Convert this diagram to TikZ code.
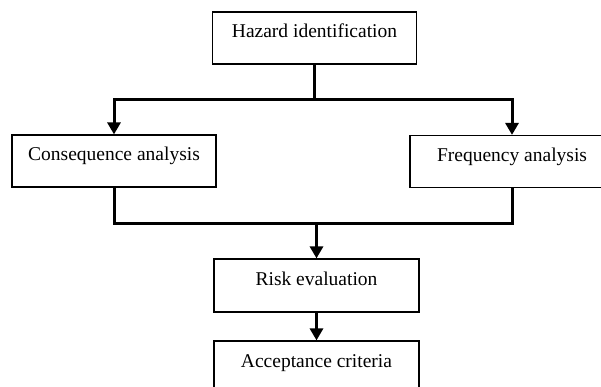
\documentclass[tikz,border=0pt]{standalone}
\usepackage{fontspec}
\setmainfont{Liberation Serif}
\usetikzlibrary{arrows.meta}
\begin{document}
\begin{tikzpicture}[x=1pt,y=-1pt,
  stepbox/.style={draw, line width=1.2pt, rectangle, inner sep=0pt,
    minimum width=204pt, minimum height=52pt,
    text height=7pt, text depth=7pt,
    font=\fontsize{19.5}{23}\selectfont},
  flow/.style={line width=3pt, line join=miter},
  flowarrow/.style={flow, -{Triangle[width=13pt,length=12pt]}}]
  \useasboundingbox (0,0) rectangle (601,387);
  \clip (0,0) rectangle (601,387);
  \fill[white] (0,0) rectangle (601,387);

  % process boxes
  \node[stepbox] (haz)  at (314.5,38)  {Hazard identification};
  \node[stepbox] (cons) at (114,161)   {Consequence analysis};
  \node[stepbox] (freq) at (512,161.5) {Frequency analysis};
  \node[stepbox, minimum width=205pt, minimum height=53pt] (risk) at (316.5,285.5) {Risk evaluation};
  \node[stepbox, minimum width=205pt] (acc) at (316.5,367) {Acceptance criteria};

  % branching and merging points
  \coordinate (split) at (haz.south |- 0,100);
  \coordinate (merge) at (risk.north |- 0,223);

  % connectors
  \draw[flow] (haz.south) -- (split);
  \draw[flowarrow] (split) -| (cons.north);
  \draw[flowarrow] (split) -| (freq.north);
  \draw[flow] (cons.south) |- (merge);
  \draw[flow] (freq.south) |- (merge);
  \draw[flowarrow] (merge) -- (risk.north);
  \draw[flowarrow] (risk.south) -- (acc.north);
\end{tikzpicture}
\end{document}
